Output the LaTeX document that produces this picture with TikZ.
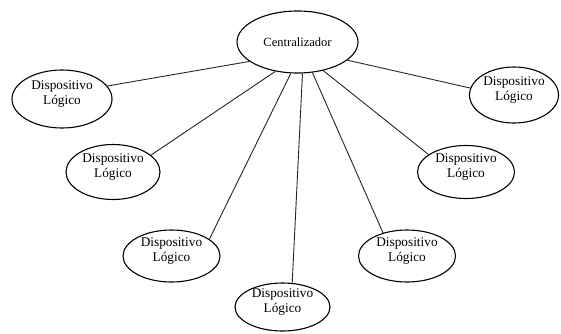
\documentclass[tikz,border=0pt]{standalone}
\usepackage{fontspec}
\setmainfont{Liberation Serif}
\usetikzlibrary{shapes.geometric}
\newcommand\liftup[1]{\raisebox{5pt}[\height][\depth]{\begin{tabular}{@{}c@{}}#1\end{tabular}}}
\begin{document}
\begin{tikzpicture}[x=1pt,y=-1pt,
  oval/.style={draw, ellipse, line width=1.1pt, inner sep=0pt, align=center},
  dev/.style={oval, minimum width=97pt, minimum height=53pt, font=\fontsize{13.3}{15}\selectfont},
  link/.style={line width=0.9pt, draw=black!85}]
\useasboundingbox (0,0) rectangle (561,333);
\node[oval, minimum width=121pt, minimum height=62pt, font=\fontsize{12.5}{15}\selectfont] (c) at (297.5,42) {Centralizador};
\node[dev, minimum width=100pt, minimum height=58pt] (d1) at (62,99) {\liftup{Dispositivo\\Lógico}};
\node[dev, minimum width=94pt, minimum height=55pt] (d2) at (113,172) {\liftup{Dispositivo\\Lógico}};
\node[dev, minimum width=97pt, minimum height=52pt] (d3) at (171.5,256) {\liftup{Dispositivo\\Lógico}};
\node[dev, minimum width=95pt, minimum height=48pt] (d4) at (282.5,307) {\liftup{Dispositivo\\Lógico}};
\node[dev, minimum width=97pt, minimum height=52pt] (d5) at (407,256) {\liftup{Dispositivo\\Lógico}};
\node[dev, minimum width=97pt, minimum height=53pt] (d6) at (466,172) {\liftup{Dispositivo\\Lógico}};
\node[dev, minimum width=89pt, minimum height=56pt] (d7) at (514,95) {\liftup{Dispositivo\\Lógico}};
\draw[link] (c.202) -- (d1.16);
\draw[link] (c.233) -- (d2.24);
\draw[link] (c.258) -- (d3.24);
\draw[link] (c.279) -- (d4.68);
\draw[link] (c.296) -- (d5.136);
\draw[link] (c.312) -- (d6.155);
\draw[link] (c.340) -- (d7.171);
\end{tikzpicture}
\end{document}
